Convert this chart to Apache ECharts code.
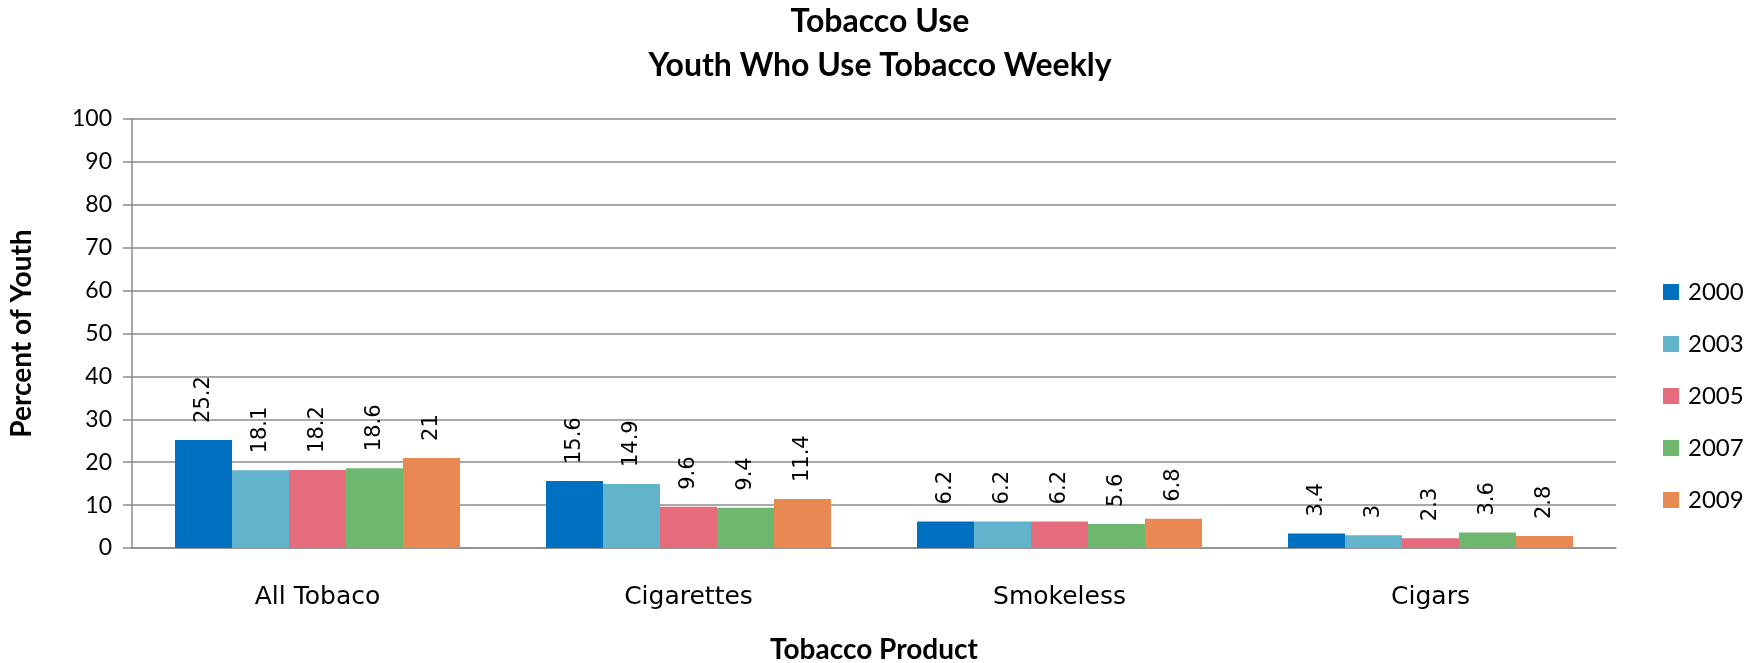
<!DOCTYPE html>
<html><head><meta charset="utf-8">
<script src="https://cdn.jsdelivr.net/npm/echarts@6/dist/echarts.min.js"></script>
<style>html,body{margin:0;padding:0;background:#fff}#c{width:1760px;height:663px}</style>
</head><body><div id="c"></div>
<script>
const categories = ['All Tobaco', 'Cigarettes', 'Smokeless', 'Cigars'];
const years = ['2000', '2003', '2005', '2007', '2009'];
const v2000 = [25.2, 15.6, 6.2, 3.4];
const v2003 = [18.1, 14.9, 6.2, 3];
const v2005 = [18.2, 9.6, 6.2, 2.3];
const v2007 = [18.6, 9.4, 5.6, 3.6];
const v2009 = [21, 11.4, 6.8, 2.8];
const yTicks = [0, 10, 20, 30, 40, 50, 60, 70, 80, 90, 100];
const colors = ['#0070C0', '#62B3CC', '#E66B7D', '#6EB76E', '#E88852'];
const values = [v2000, v2003, v2005, v2007, v2009];

const chart = echarts.init(document.getElementById('c'));
chart.setOption({
  animation: false,
  title: {
    text: 'Tobacco Use\nYouth Who Use Tobacco Weekly',
    left: 'center', top: -5,
    textStyle: { fontFamily: 'Lato', fontWeight: 'bold', fontSize: 32, lineHeight: 44, color: '#000' }
  },
  legend: {
    orient: 'vertical', left: 1658, top: 275,
    itemWidth: 16, itemHeight: 16, itemGap: 28,
    icon: 'rect',
    textStyle: { fontFamily: 'Lato', fontSize: 24, color: '#000', padding: [0, 0, 0, 4] },
    data: years
  },
  grid: { left: 132, right: 144, top: 119, bottom: 115, containLabel: false, outerBoundsMode: 'none' },
  xAxis: {
    type: 'category', data: categories,
    name: 'Tobacco Product', nameLocation: 'middle', nameGap: 88,
    nameTextStyle: { fontFamily: 'Lato', fontWeight: 'bold', fontSize: 28, color: '#000' },
    axisLine: { lineStyle: { color: '#8c8c8c', width: 1.5 } },
    axisTick: { show: false },
    axisLabel: { fontFamily: 'DejaVu Sans', fontSize: 25, color: '#000', margin: 37 }
  },
  yAxis: {
    type: 'value', min: yTicks[0], max: yTicks[yTicks.length - 1], interval: 10,
    name: 'Percent of Youth', nameLocation: 'middle', nameGap: 96,
    nameTextStyle: { fontFamily: 'Lato', fontWeight: 'bold', fontSize: 28, color: '#000' },
    axisLine: { show: true, lineStyle: { color: '#8c8c8c', width: 1.5 } },
    axisTick: { show: true, length: 9, lineStyle: { color: '#8c8c8c', width: 1.5 } },
    splitLine: { lineStyle: { color: '#8c8c8c', width: 1.5 } },
    axisLabel: { fontFamily: 'Lato', fontSize: 23, color: '#000', margin: 20 }
  },
  series: years.map((y, i) => ({
    name: y, type: 'bar', data: values[i],
    barWidth: 57, barGap: '0%',
    itemStyle: { color: colors[i] },
    label: {
      show: true, position: 'top', rotate: 90, align: 'left', verticalAlign: 'middle',
      distance: 17, fontFamily: 'DejaVu Sans', fontSize: 21, color: '#000'
    }
  }))
});
</script></body></html>
